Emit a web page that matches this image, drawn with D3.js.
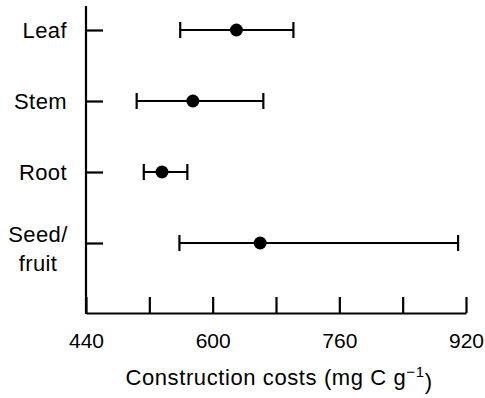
<!DOCTYPE html>
<html>
<head>
<meta charset="utf-8">
<script src="https://cdn.jsdelivr.net/npm/d3@7"></script>
<style>
  body { margin: 0; background: #fff; }
  text { font-family: Helvetica, Arial, "Liberation Sans", sans-serif; fill: #000; }
</style>
</head>
<body>
<div id="chart"></div>
<script>
// data (mg C g-1)
const tissues = ['Leaf', 'Stem', 'Root', 'Seed/fruit'];
const meanCost = [630, 575, 536, 660];
const lowCost = [559, 504, 513, 558];
const highCost = [702, 664, 568, 910];
const xTicks = [440, 520, 600, 680, 760, 840, 920];
const xLabels = [440, 600, 760, 920];

const W = 485, H = 398;
const plotLeft = 86, plotRight = 466, plotTop = 6, plotBottom = 313;

const svg = d3.select('#chart').append('svg').attr('width', W).attr('height', H);

const x = d3.scaleLinear().domain([440, 920]).range([plotLeft, plotRight]);
const y = d3.scalePoint().domain(tissues).range([plotTop + 24, plotBottom - 70]);

// x axis, ticks pointing up into the plot
const xAxis = svg.append('g')
    .attr('transform', `translate(0,${plotBottom})`)
    .call(d3.axisBottom(x)
        .tickValues(xTicks)
        .tickSizeInner(-16)
        .tickSizeOuter(0)
        .tickPadding(20)
        .tickFormat(d => xLabels.includes(d) ? d : ''));
xAxis.selectAll('line').attr('stroke', '#000').attr('stroke-width', 2.2);
xAxis.select('.domain').attr('stroke', '#000').attr('stroke-width', 2.2);
xAxis.selectAll('text').style('font-size', '21px').attr('font-family', null);

// y axis, ticks pointing right
const yAxis = svg.append('g')
    .attr('transform', `translate(${plotLeft},0)`)
    .call(d3.axisLeft(y).tickSizeInner(-17).tickSizeOuter(0).tickPadding(19)
        .tickFormat(() => ''));
yAxis.select('.domain').remove();
yAxis.selectAll('line').attr('stroke', '#000').attr('stroke-width', 2.2);
svg.append('line')
    .attr('x1', plotLeft).attr('x2', plotLeft)
    .attr('y1', plotTop).attr('y2', plotBottom + 1)
    .attr('stroke', '#000').attr('stroke-width', 2.2);

// category labels (Seed/fruit goes on two lines, centered)
yAxis.selectAll('.tick').each(function (d) {
    const t = d3.select(this).select('text').text(null)
        .style('font-size', '22px').style('letter-spacing', '0.4px')
        .attr('font-family', null);
    const parts = d.split('/');
    if (parts.length === 1) {
        t.text(d);
    } else {
        t.attr('text-anchor', 'middle').attr('dy', null);
        t.append('tspan').attr('x', -48).attr('dy', '-0.05em').text(parts[0] + '/');
        t.append('tspan').attr('x', -48).attr('dy', '1.3em').text(parts[1]);
    }
});

// error bars
const bars = svg.append('g').selectAll('g')
    .data(tissues)
    .join('g')
    .attr('transform', d => `translate(0,${y(d)})`);

bars.append('line')
    .attr('x1', (d, i) => x(lowCost[i]))
    .attr('x2', (d, i) => x(highCost[i]))
    .attr('stroke', '#000').attr('stroke-width', 2.2);

bars.append('line')
    .attr('x1', (d, i) => x(lowCost[i])).attr('x2', (d, i) => x(lowCost[i]))
    .attr('y1', -8).attr('y2', 8)
    .attr('stroke', '#000').attr('stroke-width', 2.2);

bars.append('line')
    .attr('x1', (d, i) => x(highCost[i])).attr('x2', (d, i) => x(highCost[i]))
    .attr('y1', -8).attr('y2', 8)
    .attr('stroke', '#000').attr('stroke-width', 2.2);

bars.append('circle')
    .attr('cx', (d, i) => x(meanCost[i]))
    .attr('r', 6.5)
    .attr('fill', '#000');

// axis title
const title = svg.append('text')
    .attr('x', 279)
    .attr('y', 385)
    .attr('text-anchor', 'middle')
    .style('font-size', '22px')
    .style('letter-spacing', '0.6px');
title.append('tspan').text('Construction costs (mg C g');
title.append('tspan').attr('dy', '-0.55em').style('font-size', '15px').text('\u22121');
title.append('tspan').attr('dy', '0.55em').text(')');
</script>
</body>
</html>
